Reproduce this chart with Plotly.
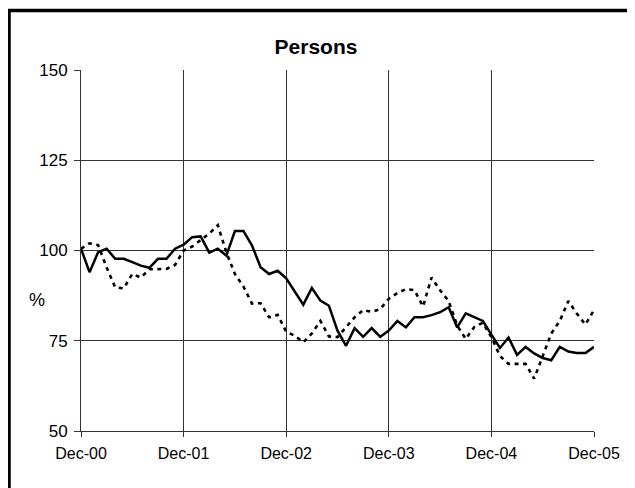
import plotly.graph_objects as go
import pandas as pd

# Monthly categories Dec-00 .. Dec-05
months = [d.strftime("%b-%y") for d in pd.date_range("2000-12-01", "2005-12-01", freq="MS")]

tick_labels = ["Dec-00", "Dec-01", "Dec-02", "Dec-03", "Dec-04", "Dec-05"]
y_ticks = [50, 75, 100, 125, 150]

solid_series = [
    100.5, 94.0, 99.5, 100.5, 97.7, 97.7, 96.8, 95.8, 95.2, 97.7,
    97.7, 100.5, 101.6, 103.7, 103.9, 99.4, 100.5, 98.6, 105.4, 105.4,
    101.4, 95.4, 93.5, 94.4, 92.3, 88.5, 85.0, 89.6, 86.1, 84.7,
    77.8, 73.6, 78.5, 76.1, 78.5, 76.1, 77.8, 80.5, 78.7, 81.5,
    81.5, 82.1, 82.9, 84.3, 78.7, 82.6, 81.5, 80.5, 76.7, 73.0,
    75.9, 71.1, 73.3, 71.5, 70.2, 69.6, 73.3, 72.0, 71.6, 71.6,
    73.3,
]

dotted_series = [
    100.5, 102.0, 101.5, 95.3, 89.8, 89.5, 93.5, 92.5, 94.8, 94.9,
    94.9, 96.0, 100.0, 101.1, 103.0, 104.7, 107.0, 99.5, 93.5, 90.0,
    85.3, 85.4, 81.5, 82.2, 77.5, 76.4, 74.6, 77.0, 80.5, 76.2,
    76.0, 78.6, 81.5, 83.5, 83.0, 83.8, 86.6, 88.2, 89.3, 89.0,
    84.5, 92.5, 89.0, 86.0, 79.2, 75.5, 78.8, 80.0, 76.0, 70.8,
    68.6, 68.6, 68.6, 64.5, 71.0, 77.0, 80.5, 86.0, 82.5, 79.5,
    83.5,
]

FONT = "Arial, Liberation Sans, sans-serif"

# page has an 8px body margin; figure is sized/placed to compensate
W, H, OFF = 627, 480, 8
PX0, PX1, PY0, PY1 = 81, 594, 70, 431          # target plot area in page pixels
L, R = PX0 - OFF, (OFF + W) - PX1
T, B = PY0 - OFF, (OFF + H) - PY1
PW, PH = PX1 - PX0, PY1 - PY0

fig = go.Figure()
fig.add_trace(go.Scatter(
    x=months, y=dotted_series, mode="lines",
    line=dict(color="black", width=2.6, dash="4px,4.5px"),
    showlegend=False,
))
fig.add_trace(go.Scatter(
    x=months, y=solid_series, mode="lines",
    line=dict(color="black", width=2.5),
    showlegend=False,
))

fig.update_layout(
    width=W, height=H,
    margin=dict(l=L, r=R, t=T, b=B),
    paper_bgcolor="white", plot_bgcolor="white",
    font=dict(family=FONT, color="black", size=16),
    title=dict(text="<b>Persons</b>", xref="container", x=(316 - OFF) / W,
               xanchor="center", y=1 - (47 - OFF) / H, yanchor="middle",
               font=dict(family=FONT, size=21, color="black")),
    showlegend=False,
)

fig.update_xaxes(
    type="category", categoryorder="array", categoryarray=months,
    range=[0, len(months) - 1],
    tickmode="array", tickvals=tick_labels, ticktext=tick_labels,
    showgrid=True, gridcolor="#333333", gridwidth=1,
    showline=True, linecolor="#333333", linewidth=1,
    ticks="outside", ticklen=5, tickcolor="#333333", tickwidth=1,
    tickfont=dict(family=FONT, size=16, color="black"),
    ticklabelstandoff=3,
    zeroline=False,
)
fig.update_yaxes(
    range=[50, 150], tickmode="array", tickvals=y_ticks,
    showgrid=True, gridcolor="#333333", gridwidth=1,
    showline=True, linecolor="#333333", linewidth=1, mirror=False,
    ticks="outside", ticklen=6, tickcolor="#333333", tickwidth=1,
    tickfont=dict(family=FONT, size=17, color="black"),
    ticklabelstandoff=3,
    zeroline=False,
)

# y-axis unit label
fig.add_annotation(text="%", xref="paper", yref="paper",
                   x=(36.6 - PX0) / PW, y=(PY1 - 300) / PH,
                   showarrow=False, font=dict(family=FONT, size=18, color="black"),
                   xanchor="center", yanchor="middle")

# outer chart border (extends past the right and bottom edges)
fig.add_shape(type="rect", xref="paper", yref="paper",
              x0=(9 - PX0) / PW, x1=(660 - PX0) / PW,
              y0=(PY1 - 520) / PH, y1=(PY1 - 10.5) / PH,
              line=dict(color="black", width=3.5), fillcolor="rgba(0,0,0,0)",
              layer="above")

fig.write_html("out.html")
